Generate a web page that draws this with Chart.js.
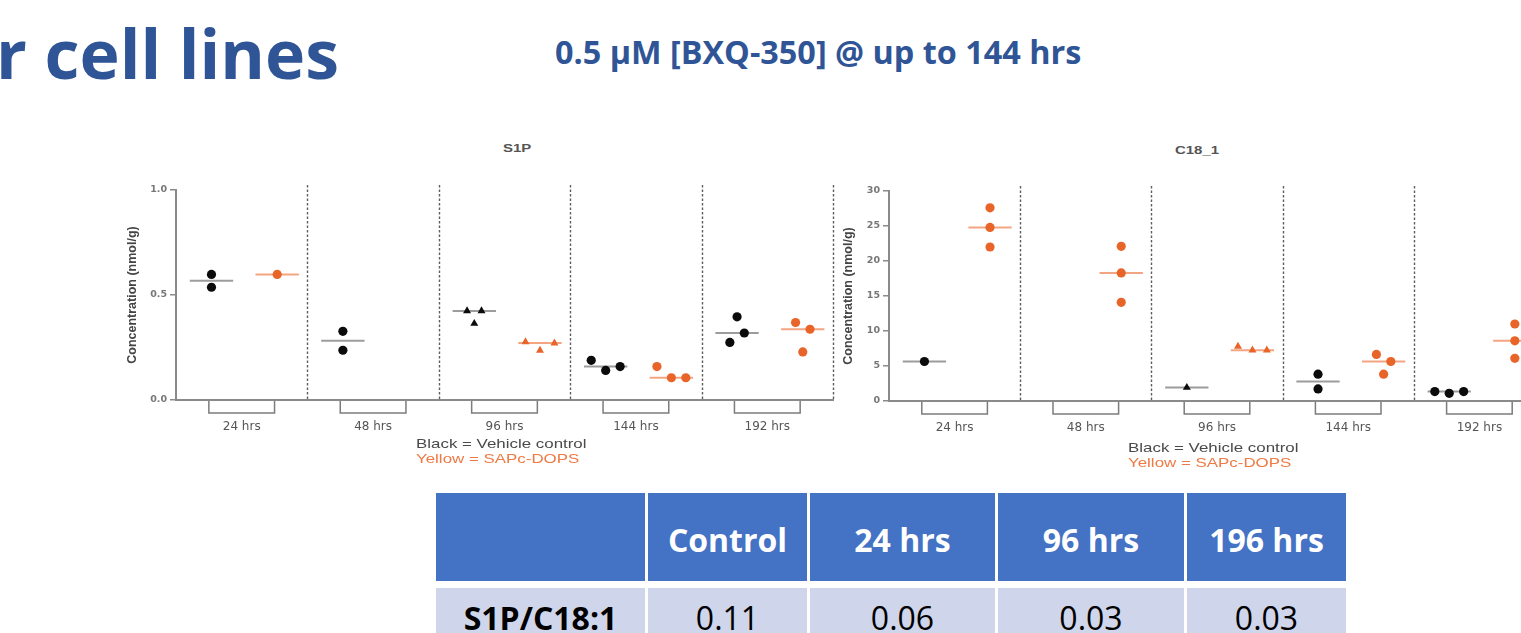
<!DOCTYPE html>
<html>
<head>
<meta charset="utf-8">
<title>S1P / C18_1</title>
<script src="https://cdn.jsdelivr.net/npm/chart.js@4.4.1/dist/chart.umd.min.js"></script>
<style>
  html, body { margin: 0; padding: 0; width: 1521px; height: 633px; overflow: hidden; background: #fff; }
  body { position: relative; font-family: "Open Sans", sans-serif; }
  .abs { position: absolute; white-space: nowrap; line-height: 1; }
  .slide-title { left: -4px; top: 19px; font-size: 68px; font-weight: 700; color: #2F5597; }
  .slide-sub { left: 555px; top: 35px; font-size: 32.4px; font-weight: 700; color: #2F5597; }
  .panel-title { font-family: "Liberation Sans", Arial, sans-serif; font-size: 11.5px; font-weight: 700; color: #555;
                 transform: scaleX(1.3); transform-origin: left top; }
  .note { font-family: "Liberation Sans", Arial, sans-serif; font-size: 13px; transform: scaleX(1.3); transform-origin: left top; }
  .note.black { color: #4a4a4a; }
  .note.orange { color: #EE7A45; }
  canvas { position: absolute; }
  #ratioTable { position: absolute; left: 436px; top: 493px; display: grid;
                grid-template-columns: 209px 159px 185px 186px 159px; grid-template-rows: 88px 80px;
                column-gap: 3px; row-gap: 7px; font-size: 32px; }
  #ratioTable div { display: flex; justify-content: center; line-height: 1.36; }
  #ratioTable .head { background: #4472C4; color: #fff; font-weight: 700; align-items: center; padding-top: 6px; box-sizing: border-box; }
  #ratioTable .cell { background: #CFD5EA; color: #000; align-items: flex-start; padding-top: 8px; box-sizing: border-box; }
  #ratioTable .cell.rowname { font-weight: 700; }
</style>
</head>
<body>

<div class="abs slide-title">r cell lines</div>
<div class="abs slide-sub">0.5 μM [BXQ-350] @ up to 144 hrs</div>

<div class="abs panel-title" style="left:503px; top:143px;">S1P</div>
<div class="abs panel-title" style="left:1175px; top:145px;">C18_1</div>

<canvas id="s1pChart" width="720" height="270" style="left:125px; top:170px;"></canvas>
<canvas id="c18Chart" width="716" height="270" style="left:841px; top:171px;"></canvas>

<div class="abs note black" style="left:416px; top:437px;">Black = Vehicle control</div>
<div class="abs note orange" style="left:416px; top:452px;">Yellow = SAPc-DOPS</div>
<div class="abs note black" style="left:1128px; top:441px;">Black = Vehicle control</div>
<div class="abs note orange" style="left:1128px; top:456px;">Yellow = SAPc-DOPS</div>

<div id="ratioTable"></div>

<script>
/* ── Data ──────────────────────────────────────────────── */
const groups = ['24 hrs', '48 hrs', '96 hrs', '144 hrs', '192 hrs'];

// one inner array per time point (replicates)
const s1pVehicle = [[0.598, 0.537], [0.327, 0.237], [0.424, 0.424, 0.364], [0.189, 0.141, 0.159], [0.274, 0.319, 0.396]];
const s1pSapc    = [[0.598], [], [0.277, 0.236, 0.271], [0.159, 0.106, 0.106], [0.369, 0.337, 0.229]];
const c18Vehicle = [[5.64], [], [1.92], [3.83, 1.72], [1.35, 1.10, 1.35]];
const c18Sapc    = [[27.6, 24.8, 22.0], [22.1, 18.3, 14.1], [7.79, 7.26, 7.26], [6.65, 5.64, 3.83], [11.0, 8.6, 6.1]];

const s1pTicks = [0, 0.5, 1.0];
const c18Ticks = [0, 5, 10, 15, 20, 25, 30];

const tableHead = ['', 'Control', '24 hrs', '96 hrs', '196 hrs'];
const tableRow  = ['S1P/C18:1', '0.11', '0.06', '0.03', '0.03'];

/* ── Look ──────────────────────────────────────────────── */
const BLACK = '#0b0b0b';
const ORANGE = '#E86428';
const AXIS = '#8a8a8a';
const VEH_OFF = -0.23, SAP_OFF = 0.27;   // sub-column offsets inside a time group
const MED_HALF = 0.165;                  // half width of the median bar
const SPREAD = 0.11;                     // horizontal spacing of overlapping dots

/* ── Helpers ───────────────────────────────────────────── */
function median(arr) {
  const s = [...arr].sort((a, b) => a - b);
  const m = Math.floor(s.length / 2);
  return s.length % 2 ? s[m] : (s[m - 1] + s[m]) / 2;
}

// Prism-like column scatter: values that would collide share a row and get spread sideways
function swarm(values, center, thresh) {
  const idx = values.map((v, i) => i).sort((a, b) => values[a] - values[b]);
  const rows = [];
  idx.forEach(i => {
    const row = rows[rows.length - 1];
    if (row && values[i] - values[row[0]] < thresh) row.push(i); else rows.push([i]);
  });
  const pts = [];
  rows.forEach(row => {
    row.sort((a, b) => a - b);
    row.forEach((i, j) => { pts[i] = { x: center + (j - (row.length - 1) / 2) * SPREAD, y: values[i] }; });
  });
  return pts;
}

function buildDatasets(vehicle, sapc, range) {
  const sets = [];
  [[vehicle, VEH_OFF, BLACK, '#9c9c9c'], [sapc, SAP_OFF, ORANGE, '#F3A582']].forEach(([series, off, col, medCol]) => {
    const pts = [], styles = [];
    series.forEach((vals, g) => {
      if (!vals.length) return;
      const c = g + off;
      swarm(vals, c, range * 0.055).forEach(p => { pts.push(p); styles.push(g === 2 ? 'triangle' : 'circle'); });
      const med = median(vals);
      sets.push({
        type: 'line', data: [{ x: c - MED_HALF, y: med }, { x: c + MED_HALF, y: med }],
        borderColor: medCol, borderWidth: 2, pointRadius: 0, order: 2
      });
    });
    sets.push({
      type: 'scatter', data: pts, pointStyle: styles,
      backgroundColor: col, borderColor: col, borderWidth: 0, pointRadius: 4.6, order: 1
    });
  });
  return sets;
}

/* ── Dashed separators + brackets under each time group ── */
const panelDecor = {
  id: 'panelDecor',
  beforeDatasetsDraw(chart) {
    const { ctx, chartArea: a, scales: { x } } = chart;
    ctx.save();
    ctx.strokeStyle = '#5e5e5e';
    ctx.lineWidth = 1.4;
    ctx.setLineDash([2.5, 2]);
    groups.forEach((g, i) => {
      const px = Math.round(x.getPixelForValue(i + 0.5)) + 0.5;
      ctx.beginPath();
      ctx.moveTo(px, a.top - 5);
      ctx.lineTo(px, a.bottom);
      ctx.stroke();
    });
    ctx.restore();
  },
  afterDraw(chart) {
    const { ctx, chartArea: a, scales: { x } } = chart;
    ctx.save();
    ctx.strokeStyle = '#7c7c7c';
    ctx.lineWidth = 1.5;
    groups.forEach((g, i) => {
      const l = x.getPixelForValue(i - 0.25), r = x.getPixelForValue(i + 0.25);
      ctx.beginPath();
      ctx.moveTo(l, a.bottom + 1);
      ctx.lineTo(l, a.bottom + 13);
      ctx.lineTo(r, a.bottom + 13);
      ctx.lineTo(r, a.bottom + 1);
      ctx.stroke();
    });
    ctx.restore();
  }
};

function makeChart(id, vehicle, sapc, ticks, yWidth, fmt) {
  const yMax = ticks[ticks.length - 1];
  return new Chart(document.getElementById(id), {
    data: { datasets: buildDatasets(vehicle, sapc, yMax - ticks[0]) },
    options: {
      responsive: false,
      animation: false,
      devicePixelRatio: 1,
      layout: { padding: { left: 0, right: 12, top: 20, bottom: 0 } },
      plugins: { legend: { display: false }, tooltip: { enabled: false } },
      scales: {
        x: {
          type: 'linear', min: -0.5, max: 4.5,
          afterBuildTicks: s => { s.ticks = groups.map((g, i) => ({ value: i })); },
          afterFit: s => { s.height = 40; },
          grid: { display: false },
          border: { display: true, color: AXIS, width: 2 },
          ticks: { callback: v => groups[v], padding: 12, color: '#555', font: { family: 'DejaVu Sans', size: 12 } }
        },
        y: {
          min: ticks[0], max: yMax,
          afterBuildTicks: s => { s.ticks = ticks.map(v => ({ value: v })); },
          afterFit: s => { s.width = yWidth; },
          grid: { drawOnChartArea: false, drawTicks: true, tickLength: 6, color: AXIS, lineWidth: 1.5 },
          border: { display: true, color: AXIS, width: 2 },
          ticks: { callback: fmt, padding: 3, color: '#777', font: { family: 'DejaVu Sans', size: 9.5, weight: 'bold' } },
          title: { display: true, text: 'Concentration (nmol/g)', padding: 0, color: '#444',
                   font: { family: 'Liberation Sans', size: 12.5, weight: 'bold' } }
        }
      }
    },
    plugins: [panelDecor]
  });
}

makeChart('s1pChart', s1pVehicle, s1pSapc, s1pTicks, 51, v => v.toFixed(1));
makeChart('c18Chart', c18Vehicle, c18Sapc, c18Ticks, 48, v => String(v));

/* ── Ratio table ───────────────────────────────────────── */
const table = document.getElementById('ratioTable');
tableHead.forEach(t => {
  const d = document.createElement('div');
  d.className = 'head';
  d.textContent = t;
  table.appendChild(d);
});
tableRow.forEach((t, i) => {
  const d = document.createElement('div');
  d.className = i === 0 ? 'cell rowname' : 'cell';
  d.textContent = t;
  table.appendChild(d);
});
</script>
</body>
</html>
